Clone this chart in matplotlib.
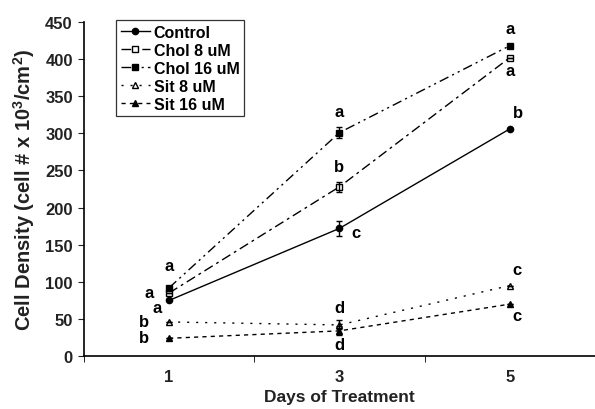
import numpy as np
import matplotlib
matplotlib.use("Agg")
import matplotlib.pyplot as plt

plt.rcParams['font.family'] = ['Liberation Sans', 'DejaVu Sans']
plt.rcParams['font.weight'] = 'bold'
plt.rcParams['mathtext.fontset'] = 'custom'
plt.rcParams['mathtext.bf'] = 'Liberation Sans:bold'

# data
days = ["1", "3", "5"]
control = [75, 172, 306]
chol8 = [85, 228, 402]
chol16 = [92, 301, 418]
sit8 = [46, 42, 95]
sit16 = [24, 34, 70]
err_control = [0, 10, 0]
err_chol8 = [0, 7, 0]
err_chol16 = [0, 7, 0]
err_sit8 = [0, 6, 0]
err_sit16 = [0, 6, 0]

# significance letters: (day index, value, letter)
letters = [(0, 122, "a"), (0, 86, "a"), (0, 65, "a"), (0, 47, "b"), (0, 25, "b"),
           (1, 329, "a"), (1, 256, "b"), (1, 167, "c"), (1, 66, "d"), (1, 15, "d"),
           (2, 441, "a"), (2, 385, "a"), (2, 328, "b"), (2, 116, "c"), (2, 55, "c")]
letter_dx = [0, -0.12, -0.07, -0.15, -0.15,
             0, 0, 0.1, 0, 0,
             0, 0, 0.05, 0.04, 0.04]

x = np.arange(len(days))

fig = plt.figure(figsize=(5.95, 4.10), dpi=100)
ax = fig.add_axes([0.141, 0.129, 0.859, 0.815])

series = [
    (control, err_control, "Control", "o", "black", "-"),
    (chol8, err_chol8, "Chol 8 uM", "s", "white", (0, (7, 3, 2, 3))),
    (chol16, err_chol16, "Chol 16 uM", "s", "black", (0, (7, 3, 1.5, 3, 1.5, 3))),
    (sit8, err_sit8, "Sit 8 uM", "^", "white", (0, (1.5, 5))),
    (sit16, err_sit16, "Sit 16 uM", "^", "black", (0, (3, 3))),
]
for vals, err, lab, mk, fc, ls in series:
    ax.plot(x, vals, marker=mk, mfc=fc, mec="black", color="black", lw=1.0, ms=4.5,
            linestyle=ls, label=lab)
    ax.errorbar(x, vals, yerr=err, fmt="none", ecolor="black", elinewidth=1.0,
                capsize=2.5, capthick=1.0)

for (i, v, t), dx in zip(letters, letter_dx):
    ax.text(i + dx, v, t, ha="center", va="center", fontsize=12, fontweight="bold")

ax.set_xlim(-0.5, 2.5)
ax.set_ylim(0, 450)
ax.set_yticks(np.arange(0, 451, 50))
ax.set_xticks(x)
ax.set_xticklabels(days)
ax.set_xticks([-0.5, 0.5, 1.5, 2.5], minor=True)
ax.tick_params(axis="x", which="major", length=0, pad=9)
ax.tick_params(axis="x", which="minor", length=4, direction="out")
ax.tick_params(axis="y", length=4, direction="out", pad=4)
ax.tick_params(labelsize=12, colors="#222222")
for lab in ax.get_xticklabels() + ax.get_yticklabels():
    lab.set_fontweight("bold")
ax.spines["top"].set_visible(False)
ax.spines["right"].set_visible(False)
ax.spines["left"].set_linewidth(1.2)
ax.spines["bottom"].set_linewidth(1.2)

ax.set_xlabel("Days of Treatment", fontsize=12.5, fontweight="bold", labelpad=4,
              color="#222222")
ax.set_ylabel(r"Cell Density (cell # x 10$^\mathbf{3}$/cm$^\mathbf{2}$)",
              fontsize=14.5, fontweight="bold", color="#222222", labelpad=6)

leg = ax.legend(loc="upper left", bbox_to_anchor=(0.063, 1.005), fontsize=11.5,
                frameon=True, fancybox=False, edgecolor="black", handlelength=1.8,
                handletextpad=0.25, borderpad=0.3, labelspacing=0.18,
                borderaxespad=0)
leg.get_frame().set_linewidth(0.9)

fig.savefig("out.png", dpi=100)
